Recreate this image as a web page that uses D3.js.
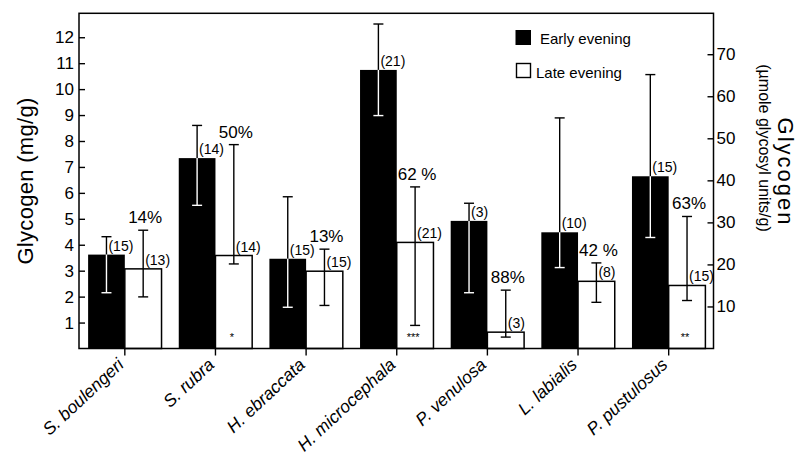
<!DOCTYPE html>
<html>
<head>
<meta charset="utf-8">
<script src="https://cdn.jsdelivr.net/npm/d3@7"></script>
<style>
  html, body { margin: 0; padding: 0; background: #fff; }
  svg { display: block; font-family: "Liberation Sans", Arial, Helvetica, sans-serif; }
</style>
</head>
<body>
<svg id="chart" width="797" height="456"></svg>
<script>
const species = ["S. boulengeri", "S. rubra", "H. ebraccata", "H. microcephala", "P. venulosa", "L. labialis", "P. pustulosus"];
const earlyMean = [3.62, 7.34, 3.46, 10.74, 4.92, 4.48, 6.64];
const earlyHi   = [4.31, 8.60, 5.85, 12.51, 5.60, 8.89, 10.56];
const earlyLo   = [2.15, 5.52, 1.59, 8.98, 2.15, 3.12, 4.28];
const earlyN    = [15, 14, 15, 21, 3, 10, 15];
const lateMean  = [3.07, 3.585, 2.98, 4.09, 0.63, 2.59, 2.43];
const lateHi    = [4.56, 7.86, 3.83, 6.23, 2.25, 3.30, 5.09];
const lateLo    = [1.99, 3.26, 1.66, 0.89, 0.44, 1.78, 1.85];
const lateN     = [13, 14, 15, 21, 3, 8, 15];
const pctLabels = ["14%", "50%", "13%", "62 %", "88%", "42 %", "63%"];
const sigMarks  = ["", "*", "", "***", "", "", "**"];
const seriesNames = ["Early evening", "Late evening"];
const leftTicks = [1, 2, 3, 4, 5, 6, 7, 8, 9, 10, 11, 12];
const rightTicks = [10, 20, 30, 40, 50, 60, 70];
const mgToUmol = 6.17;

const svg = d3.select("#chart");
const pLeft = 79, pRight = 713.5, pTop = 13.3, pBottom = 348.5;

const x = d3.scaleBand().domain(species).range([79.5, 714]).paddingInner(0).paddingOuter(0);
const groupW = x.bandwidth() * 0.81;
const xs = d3.scaleBand().domain(["early", "late"]).range([0, groupW]);
const y = d3.scaleLinear().domain([0, 13]).range([pBottom, 11.3]);
const yR = d3.scaleLinear().domain([0, 13 * mgToUmol]).range([pBottom, 11.3]);

const data = species.map((s, i) => ({
  s, i,
  early: {m: earlyMean[i], hi: earlyHi[i], lo: earlyLo[i], n: earlyN[i]},
  late: {m: lateMean[i], hi: lateHi[i], lo: lateLo[i], n: lateN[i]}
}));

const cx = s => x(s) + x.bandwidth() / 2;
const gx = s => cx(s) - groupW / 2;

const g = svg.append("g");
data.forEach(d => {
  const x0 = gx(d.s);
  const bw = xs.bandwidth();
  g.append("rect").attr("x", x0 + xs("early")).attr("y", y(d.early.m))
    .attr("width", bw).attr("height", pBottom - y(d.early.m)).attr("fill", "#000");
  g.append("rect").attr("x", x0 + xs("late")).attr("y", y(d.late.m))
    .attr("width", bw).attr("height", pBottom - y(d.late.m))
    .attr("fill", "#fff").attr("stroke", "#000").attr("stroke-width", 1.5);
});

const cap = 5;
data.forEach(d => {
  const bw = xs.bandwidth();
  const xe = gx(d.s) + xs("early") + bw / 2;
  const e = d.early;
  g.append("line").attr("x1", xe).attr("x2", xe).attr("y1", y(e.hi)).attr("y2", y(e.m))
    .attr("stroke", "#000").attr("stroke-width", 1.4);
  g.append("line").attr("x1", xe - cap).attr("x2", xe + cap).attr("y1", y(e.hi)).attr("y2", y(e.hi))
    .attr("stroke", "#000").attr("stroke-width", 1.4);
  g.append("line").attr("x1", xe).attr("x2", xe).attr("y1", y(e.m)).attr("y2", y(e.lo))
    .attr("stroke", "#fff").attr("stroke-width", 1.4);
  g.append("line").attr("x1", xe - cap).attr("x2", xe + cap).attr("y1", y(e.lo)).attr("y2", y(e.lo))
    .attr("stroke", "#fff").attr("stroke-width", 1.4);
  const xl = gx(d.s) + xs("late") + bw / 2;
  const l = d.late;
  g.append("line").attr("x1", xl).attr("x2", xl).attr("y1", y(l.hi)).attr("y2", y(l.lo))
    .attr("stroke", "#000").attr("stroke-width", 1.4);
  [l.hi, l.lo].forEach(v => g.append("line").attr("x1", xl - cap).attr("x2", xl + cap)
    .attr("y1", y(v)).attr("y2", y(v)).attr("stroke", "#000").attr("stroke-width", 1.4));

  g.append("text").attr("x", xe + 2).attr("y", y(e.m) - 4).attr("font-size", 14)
    .text("(" + e.n + ")");
  g.append("text").attr("x", xl + 2).attr("y", y(l.m) - 4).attr("font-size", 14)
    .text("(" + l.n + ")");
  g.append("text").attr("x", xl + 2).attr("y", y(l.hi) - 7).attr("font-size", 17)
    .attr("text-anchor", "middle").text(pctLabels[d.i]);
  if (sigMarks[d.i]) {
    g.append("text").attr("x", xl - 2).attr("y", 341).attr("font-size", 11)
      .attr("text-anchor", "middle").text(sigMarks[d.i]);
  }
});

svg.append("rect").attr("x", pLeft).attr("y", pTop).attr("width", pRight - pLeft).attr("height", pBottom - pTop)
  .attr("fill", "none").attr("stroke", "#000").attr("stroke-width", 1.5);

const axL = svg.append("g").attr("transform", `translate(${pLeft},0)`)
  .call(d3.axisLeft(y).tickValues(leftTicks).tickSize(-6).tickPadding(5).tickFormat(d3.format("d")));
axL.select(".domain").remove();
axL.selectAll(".tick line").attr("stroke-width", 1.4);
axL.selectAll("text").attr("font-size", 17).attr("font-family", "Liberation Sans, Arial, sans-serif").attr("fill", "#000");

const axR = svg.append("g").attr("transform", `translate(${pRight},0)`)
  .call(d3.axisRight(yR).tickValues(rightTicks).tickSize(-6).tickPadding(3).tickFormat(d3.format("d")));
axR.select(".domain").remove();
axR.selectAll(".tick line").attr("stroke-width", 1.4);
axR.selectAll("text").attr("font-size", 17).attr("font-family", "Liberation Sans, Arial, sans-serif").attr("fill", "#000");

const axB = svg.append("g").attr("transform", `translate(0,${pBottom})`)
  .call(d3.axisBottom(x).tickSize(7).tickFormat(""));
axB.select(".domain").remove();
axB.selectAll(".tick line").attr("stroke-width", 1.4);

svg.append("g").selectAll("text").data(species).join("text")
  .attr("transform", d => `translate(${cx(d)},366) rotate(-43)`)
  .attr("text-anchor", "end").attr("font-size", 17.5).attr("font-style", "italic")
  .text(d => d);

svg.append("text").attr("transform", "translate(25,181) rotate(-90)")
  .attr("text-anchor", "middle").attr("dominant-baseline", "central")
  .attr("font-size", 22).attr("letter-spacing", 0.3).text("Glycogen (mg/g)");
svg.append("text").attr("transform", "translate(785,172) rotate(90)")
  .attr("text-anchor", "middle").attr("dominant-baseline", "central")
  .attr("font-size", 22).attr("letter-spacing", 2).text("Glycogen");
svg.append("text").attr("transform", "translate(764,148) rotate(90)")
  .attr("text-anchor", "middle").attr("dominant-baseline", "central")
  .attr("font-size", 16).text("(µmole glycosyl units/g)");

const leg = svg.append("g");
const legY = [30, 63.5];
seriesNames.forEach((n, i) => {
  leg.append("rect").attr("x", i === 0 ? 515.5 : 516.5).attr("y", legY[i])
    .attr("width", i === 0 ? 15.5 : 14).attr("height", i === 0 ? 15 : 14)
    .attr("fill", i === 0 ? "#000" : "#fff").attr("stroke", "#000").attr("stroke-width", i === 0 ? 0 : 1.4);
  leg.append("text").attr("x", i === 0 ? 540 : 536).attr("y", legY[i] + 14)
    .attr("font-size", 15).text(n);
});
</script>
</body>
</html>
